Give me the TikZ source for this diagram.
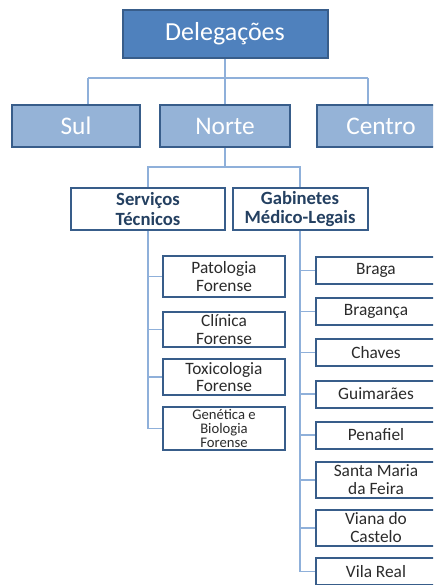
\documentclass[tikz,border=0pt]{standalone}
\usepackage{fontspec}
\setmainfont{Carlito}
\definecolor{azul}{HTML}{4F81BD}
\definecolor{azulclaro}{HTML}{95B3D7}
\definecolor{bordo}{HTML}{385D8A}
\definecolor{linha}{HTML}{8FB0DA}
\definecolor{titulo}{HTML}{244061}
\definecolor{texto}{HTML}{2B2B2B}
\tikzset{
 topbox/.style={draw=bordo,fill=azul,text=white,line width=1.5pt,minimum width=153.75pt,minimum height=36pt,font=\fontsize{19.5}{22}\selectfont},
 regbox/.style={draw=bordo,fill=azulclaro,text=white,line width=1.5pt,minimum width=96pt,minimum height=31.5pt,font=\fontsize{19}{22}\selectfont},
 secbox/.style={draw=bordo,fill=white,text=titulo,line width=1.5pt,minimum height=31.5pt,inner sep=0pt,align=center,font=\bfseries\fontsize{14}{14.5}\selectfont},
 unitbox/.style={draw=bordo,fill=white,text=texto,line width=1.5pt,minimum width=91.5pt,inner sep=0pt,align=center,font=\fontsize{13}{13}\selectfont},
 citybox/.style={draw=bordo,fill=white,text=texto,line width=1.5pt,minimum width=90pt,minimum height=20.25pt,inner sep=0pt,align=center,font=\fontsize{13}{13.5}\selectfont},
 link/.style={draw=linha,line width=0.9pt}
}
\begin{document}
\begin{tikzpicture}[x=0.75pt,y=-0.75pt]
 \clip (0,0) rectangle (433,585);
 \fill[white] (0,0) rectangle (433,585);
 % niveis de cima
 \node[topbox] (del) at (225,34) {Delegações};
 \node[regbox] (sul) at (76,126) {Sul};
 \node[regbox,minimum width=97.5pt] (norte) at (225,126) {Norte};
 \node[regbox] (centro) at (381,126) {Centro};
 \node[secbox,minimum width=115.5pt] (serv) at (148,209) {Serviços\\Técnicos};
 \node[secbox,minimum width=101.25pt] (gab) at (300,209) {Gabinetes\\Médico-Legais};
 % servicos tecnicos
 \node[unitbox,minimum height=30.75pt] (pat) at (224,276.5) {Patologia\\Forense};
 \node[unitbox,minimum height=26.25pt] (cli) at (224,329.5) {Clínica\\Forense};
 \node[unitbox,minimum height=27pt] (tox) at (224,377) {Toxicologia\\Forense};
 \node[unitbox,minimum height=32.25pt,font=\fontsize{11}{10.5}\selectfont] (gen) at (224,428.5) {Genética e\\Biologia\\Forense};
 % gabinetes
 \node[citybox] (braga) at (376,270.5) {Braga};
 \node[citybox] (braganca) at (376,311.5) {Bragança};
 \node[citybox] (chaves) at (376,352.5) {Chaves};
 \node[citybox] (guim) at (376,394) {Guimarães};
 \node[citybox] (pena) at (376,435) {Penafiel};
 \node[citybox,minimum height=27pt] (feira) at (376,480) {Santa Maria\\da Feira};
 \node[citybox,minimum height=27pt] (viana) at (376,528) {Viana do\\Castelo};
 \node[citybox] (vila) at (376,571.5) {Vila Real};
 % ligacoes
 \coordinate (busL) at (88,78);
 \coordinate (busR) at (368,78);
 \coordinate (bus2) at (225,167);
 \draw[link] (del) -- (norte);
 \draw[link] (busL) -- (busR);
 \draw[link] (busL) -- (busL |- sul.north);
 \draw[link] (busR) -- (busR |- centro.north);
 \draw[link] (norte) -- (bus2);
 \draw[link] (serv.north) |- (bus2) -| (gab.north);
 \draw[link] (serv.south) |- (gen.west);
 \foreach \u in {pat,cli,tox}
  \draw[link] (serv.south |- \u.west) -- (\u.west);
 \draw[link] (gab.south) |- (vila.west);
 \foreach \c in {braga,braganca,chaves,guim,pena,feira,viana}
  \draw[link] (gab.south |- \c.west) -- (\c.west);
\end{tikzpicture}
\end{document}
